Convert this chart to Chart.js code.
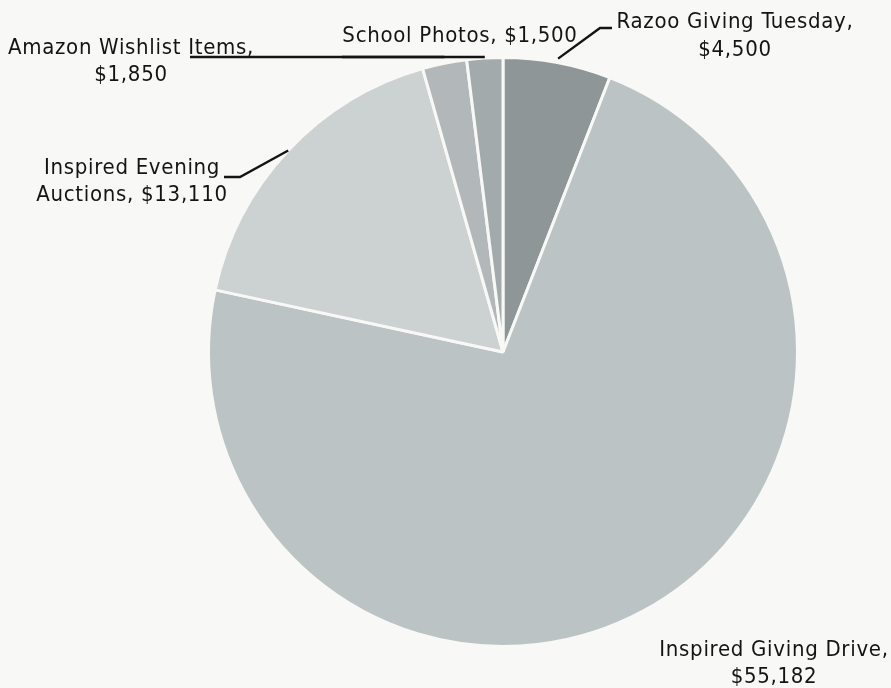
<!DOCTYPE html>
<html>
<head>
<meta charset="utf-8">
<script src="https://cdn.jsdelivr.net/npm/chart.js@4/dist/chart.umd.min.js"></script>
<style>
  html, body { margin: 0; padding: 0; background: #f8f8f6; }
  #wrap { width: 891px; height: 688px; position: relative; }
</style>
</head>
<body>
<div id="wrap"><canvas id="c" width="891" height="688"></canvas></div>
<script>
// Data (clockwise from 12 o'clock)
const categories = ["Razoo Giving Tuesday", "Inspired Giving Drive", "Inspired Evening Auctions", "Amazon Wishlist Items", "School Photos"];
const amounts = [4500, 55182, 13110, 1850, 1500];
const sliceColors = ["#8f9698", "#bcc3c5", "#ccd1d2", "#b2b8ba", "#a3aaac"];

function money(v) { return "$" + v.toLocaleString("en-US"); }

// Label layout: lines, text centre, leader polyline (start points); leader end comes from the arc geometry
const labelLayout = [
  { lines: [categories[0] + ",", money(amounts[0])], x: 735, y: [22, 50], leader: [[612, 28], [600, 28]], r: 4 },
  { lines: [categories[1] + ",", money(amounts[1])], x: 774, y: [650, 677], leader: null },
  { lines: ["Inspired Evening", "Auctions, " + money(amounts[2])], x: 132, y: [168, 195], leader: [[224, 177], [240, 177]], r: 0 },
  { lines: [categories[3] + ",", money(amounts[3])], x: 131, y: [48, 75], leader: [[190, 57]], horiz: true },
  { lines: [categories[4] + ", " + money(amounts[4])], x: 460, y: [36], leader: [[342, 57]], horiz: true }
];

const labelPlugin = {
  id: "pieLabels",
  afterDatasetsDraw(chart) {
    const ctx = chart.ctx;
    const meta = chart.getDatasetMeta(0);
    ctx.save();
    ctx.fillStyle = "#141414";
    ctx.strokeStyle = "#141414";
    ctx.font = "22px 'DejaVu Sans Condensed', 'DejaVu Sans', sans-serif";
    try { ctx.letterSpacing = "0.7px"; } catch (e) {}
    ctx.textAlign = "center";
    ctx.textBaseline = "middle";
    labelLayout.forEach((L, i) => {
      L.lines.forEach((t, k) => ctx.fillText(t, L.x, L.y[k]));
      if (!L.leader) return;
      const arc = meta.data[i];
      const mid = (arc.startAngle + arc.endAngle) / 2;
      const rr = arc.outerRadius + (L.r || 0);
      let ex = arc.x + Math.cos(mid) * rr;
      let ey = arc.y + Math.sin(mid) * rr;
      ctx.lineWidth = 2.4;
      ctx.beginPath();
      ctx.moveTo(L.leader[0][0], L.leader[0][1]);
      for (let k = 1; k < L.leader.length; k++) ctx.lineTo(L.leader[k][0], L.leader[k][1]);
      if (L.horiz) {
        ctx.lineTo(ex, L.leader[0][1]);
      } else {
        ctx.lineTo(ex, ey);
      }
      ctx.stroke();
    });
    ctx.restore();
  }
};

new Chart(document.getElementById("c"), {
  type: "pie",
  data: {
    labels: categories,
    datasets: [{
      data: amounts,
      backgroundColor: sliceColors,
      borderColor: "#f8f8f6",
      borderWidth: 3
    }]
  },
  options: {
    responsive: false,
    animation: false,
    rotation: 0,
    layout: { padding: { left: 148, right: 33, top: 56, bottom: 40 } },
    plugins: { legend: { display: false }, tooltip: { enabled: false } }
  },
  plugins: [labelPlugin]
});
</script>
</body>
</html>
